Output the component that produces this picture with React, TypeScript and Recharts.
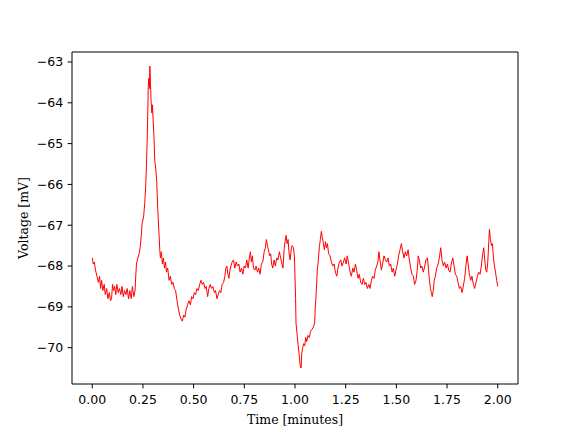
import React from 'react';
import { LineChart, Line, XAxis, YAxis, ReferenceArea } from 'recharts';

const timeMin: number[] = [
  0.000, 0.005, 0.010, 0.016, 0.023, 0.030, 0.036, 0.041, 0.046, 0.052, 0.059, 0.064, 0.071, 0.077, 0.084, 0.090, 0.095, 0.100,
  0.105, 0.110, 0.116, 0.121, 0.128, 0.134, 0.141, 0.147, 0.153, 0.159, 0.166, 0.172, 0.179, 0.185, 0.192, 0.198, 0.205, 0.211,
  0.215, 0.218, 0.225, 0.231, 0.236, 0.241, 0.246, 0.253, 0.259, 0.264, 0.268, 0.271, 0.274, 0.276, 0.279, 0.282, 0.284, 0.287,
  0.290, 0.294, 0.297, 0.300, 0.305, 0.308, 0.313, 0.318, 0.323, 0.328, 0.333, 0.336, 0.341, 0.346, 0.351, 0.356, 0.361, 0.366,
  0.372, 0.379, 0.385, 0.392, 0.398, 0.405, 0.411, 0.418, 0.425, 0.431, 0.438, 0.444, 0.451, 0.457, 0.464, 0.470, 0.477, 0.484,
  0.490, 0.497, 0.503, 0.510, 0.516, 0.523, 0.530, 0.536, 0.543, 0.549, 0.556, 0.562, 0.569, 0.575, 0.582, 0.588, 0.595, 0.602,
  0.608, 0.615, 0.621, 0.628, 0.634, 0.641, 0.648, 0.654, 0.659, 0.664, 0.669, 0.674, 0.679, 0.684, 0.690, 0.697, 0.703, 0.710,
  0.716, 0.723, 0.729, 0.736, 0.743, 0.749, 0.756, 0.762, 0.769, 0.775, 0.780, 0.785, 0.790, 0.795, 0.802, 0.808, 0.815, 0.821,
  0.828, 0.834, 0.841, 0.848, 0.854, 0.859, 0.864, 0.869, 0.875, 0.880, 0.885, 0.890, 0.897, 0.903, 0.910, 0.916, 0.923, 0.929,
  0.936, 0.941, 0.946, 0.951, 0.956, 0.961, 0.966, 0.971, 0.976, 0.981, 0.986, 0.992, 0.997,
  1.003, 1.005, 1.011, 1.016, 1.021, 1.026, 1.030, 1.033, 1.038, 1.043, 1.048, 1.053, 1.058, 1.064, 1.070, 1.077, 1.084, 1.090,
  1.097, 1.100, 1.103, 1.107, 1.110, 1.115, 1.120, 1.125, 1.130, 1.135, 1.140, 1.145, 1.150, 1.155, 1.160, 1.166, 1.173, 1.179,
  1.186, 1.193, 1.199, 1.206, 1.212, 1.219, 1.226, 1.232, 1.239, 1.245, 1.252, 1.258, 1.265, 1.272, 1.278, 1.285, 1.291, 1.298,
  1.304, 1.311, 1.317, 1.324, 1.331, 1.337, 1.344, 1.350, 1.357, 1.364, 1.370, 1.377, 1.383, 1.390, 1.396, 1.403, 1.409, 1.414,
  1.419, 1.426, 1.432, 1.439, 1.446, 1.452, 1.459, 1.465, 1.472, 1.479, 1.485, 1.492, 1.498, 1.505, 1.511, 1.518, 1.525, 1.531,
  1.538, 1.544, 1.551, 1.558, 1.564, 1.571, 1.577, 1.584, 1.590, 1.597, 1.603, 1.608, 1.613, 1.620, 1.626, 1.633, 1.640, 1.646,
  1.653, 1.658, 1.663, 1.668, 1.673, 1.677, 1.682, 1.687, 1.692, 1.699, 1.706, 1.712, 1.719, 1.725, 1.732, 1.738, 1.745, 1.752,
  1.758, 1.765, 1.771, 1.778, 1.785, 1.791, 1.798, 1.804, 1.811, 1.817, 1.824, 1.830, 1.837, 1.844, 1.849, 1.854, 1.860, 1.867,
  1.873, 1.880, 1.886, 1.893, 1.900, 1.906, 1.913, 1.919, 1.926, 1.931, 1.936, 1.941, 1.946, 1.951, 1.956, 1.959, 1.964, 1.969,
  1.974, 1.979, 1.984, 1.989, 1.995, 2.000,
];

const voltageMv: number[] = [
  -67.80, -67.95, -67.90, -68.10, -68.25, -68.40, -68.25, -68.55, -68.35, -68.60, -68.45, -68.70, -68.55, -68.80, -68.65, -68.85, -68.80, -68.45,
  -68.60, -68.50, -68.70, -68.45, -68.65, -68.55, -68.70, -68.50, -68.75, -68.60, -68.70, -68.55, -68.80, -68.60, -68.80, -68.50, -68.75, -68.60,
  -68.20, -67.95, -67.80, -67.70, -67.55, -67.30, -66.95, -66.80, -66.45, -66.00, -65.40, -64.90, -64.20, -63.60, -63.40, -63.65, -63.10, -63.50,
  -63.95, -64.25, -64.05, -64.40, -64.90, -65.40, -65.60, -65.95, -66.60, -67.10, -67.60, -67.80, -67.65, -67.95, -67.80, -68.05, -67.90, -68.15,
  -68.05, -68.35, -68.25, -68.45, -68.40, -68.55, -68.60, -68.85, -69.05, -69.20, -69.30, -69.35, -69.20, -69.25, -69.05, -68.95, -68.85, -68.95,
  -68.75, -68.80, -68.65, -68.70, -68.55, -68.60, -68.45, -68.35, -68.45, -68.40, -68.55, -68.50, -68.75, -68.55, -68.45, -68.55, -68.50, -68.65,
  -68.60, -68.80, -68.70, -68.60, -68.65, -68.45, -68.40, -68.25, -68.05, -68.00, -68.20, -68.30, -68.10, -68.00, -67.90, -67.85, -68.05, -67.90,
  -68.00, -67.95, -68.15, -68.05, -68.20, -68.00, -68.05, -67.85, -68.05, -67.80, -67.65, -67.90, -67.75, -68.05, -68.10, -68.00, -68.15, -68.05,
  -68.20, -67.95, -67.90, -67.65, -67.55, -67.35, -67.50, -67.60, -67.75, -67.70, -67.95, -68.05, -67.85, -68.00, -67.80, -67.85, -67.65, -67.80,
  -67.95, -68.05, -67.60, -67.40, -67.25, -67.45, -67.35, -67.70, -67.85, -67.60, -67.50, -67.55, -67.75,
  -68.80, -69.40, -69.70, -69.95, -70.20, -70.45, -70.50, -70.15, -70.00, -69.90, -69.95, -69.75, -69.85, -69.70, -69.75, -69.60, -69.55, -69.50,
  -69.40, -69.00, -68.80, -68.40, -68.10, -67.85, -67.55, -67.35, -67.15, -67.30, -67.45, -67.60, -67.40, -67.55, -67.45, -67.70, -67.75, -67.90,
  -68.00, -67.95, -68.15, -68.25, -68.05, -67.90, -67.85, -68.00, -67.90, -67.80, -67.95, -67.75, -67.95, -68.15, -68.25, -68.05, -68.15, -67.95,
  -68.10, -68.30, -68.20, -68.40, -68.45, -68.30, -68.45, -68.40, -68.55, -68.45, -68.55, -68.35, -68.25, -68.30, -68.10, -68.00, -67.90, -67.65,
  -67.85, -68.10, -67.95, -67.75, -67.85, -67.90, -67.80, -68.00, -67.95, -68.15, -68.05, -68.25, -68.10, -67.95, -67.75, -67.60, -67.45, -67.65,
  -67.80, -67.65, -67.75, -67.60, -67.85, -68.05, -68.20, -68.25, -68.45, -68.35, -68.10, -67.75, -67.85, -68.05, -68.00, -68.15, -68.00, -67.85,
  -67.80, -68.05, -68.35, -68.55, -68.65, -68.75, -68.60, -68.35, -68.25, -68.05, -67.95, -67.80, -67.55, -67.85, -68.00, -67.90, -68.05, -67.95,
  -68.10, -68.15, -67.95, -67.80, -68.00, -68.20, -68.25, -68.40, -68.55, -68.50, -68.65, -68.50, -68.30, -67.95, -67.75, -67.95, -68.20, -68.35,
  -68.25, -68.45, -68.55, -68.40, -68.25, -68.15, -68.20, -68.00, -67.70, -67.55, -67.85, -68.10, -68.15, -67.90, -67.40, -67.10, -67.35, -67.50,
  -67.45, -67.80, -68.00, -68.15, -68.35, -68.50,
];

const xTicks: number[] = [0, 0.25, 0.5, 0.75, 1.0, 1.25, 1.5, 1.75, 2.0];
const yTicks: number[] = [-70, -69, -68, -67, -66, -65, -64, -63];

const X_DOMAIN: [number, number] = [-0.1, 2.1];
const Y_DOMAIN: [number, number] = [-70.89, -62.755];

const data = timeMin.map((t, i) => ({ t, v: voltageMv[i] }));

const tickFont = { fontFamily: 'DejaVu Sans', fontSize: 12.5, fill: '#000' };
const labelFont = { fontFamily: 'DejaVu Serif', fontSize: 12.5, fill: '#000' };

export default function App() {
  return (
    <div style={{ position: 'absolute', left: 0, top: 0, background: '#fff' }}>
      <LineChart width={576} height={432} data={data} margin={{ top: 52, right: 58, bottom: 0, left: 0 }}>
        <XAxis
          dataKey="t"
          type="number"
          domain={X_DOMAIN}
          ticks={xTicks}
          allowDataOverflow
          height={48}
          tickFormatter={(v: number) => v.toFixed(2)}
          tick={tickFont}
          tickSize={4.4}
          tickMargin={7}
          stroke="#000"
          axisLine={false}
          label={{ value: 'Time [minutes]', position: 'insideBottom', offset: 8, style: { ...labelFont, textAnchor: 'middle' } }}
        />
        <YAxis
          type="number"
          domain={Y_DOMAIN}
          ticks={yTicks}
          allowDataOverflow
          width={72}
          tickFormatter={(v: number) => String(v).replace('-', '\u2212')}
          tick={tickFont}
          tickSize={4.4}
          tickMargin={4.4}
          stroke="#000"
          axisLine={false}
          label={{ value: 'Voltage [mV]', angle: -90, position: 'insideLeft', offset: 24, style: { ...labelFont, textAnchor: 'middle' } }}
        />
        <Line
          dataKey="v"
          type="linear"
          stroke="#ff0000"
          strokeWidth={1}
          dot={false}
          isAnimationActive={false}
        />
        <ReferenceArea
          x1={X_DOMAIN[0]}
          x2={X_DOMAIN[1]}
          y1={Y_DOMAIN[0]}
          y2={Y_DOMAIN[1]}
          fill="none"
          stroke="#000"
          strokeWidth={1}
          ifOverflow="visible"
        />
      </LineChart>
    </div>
  );
}
